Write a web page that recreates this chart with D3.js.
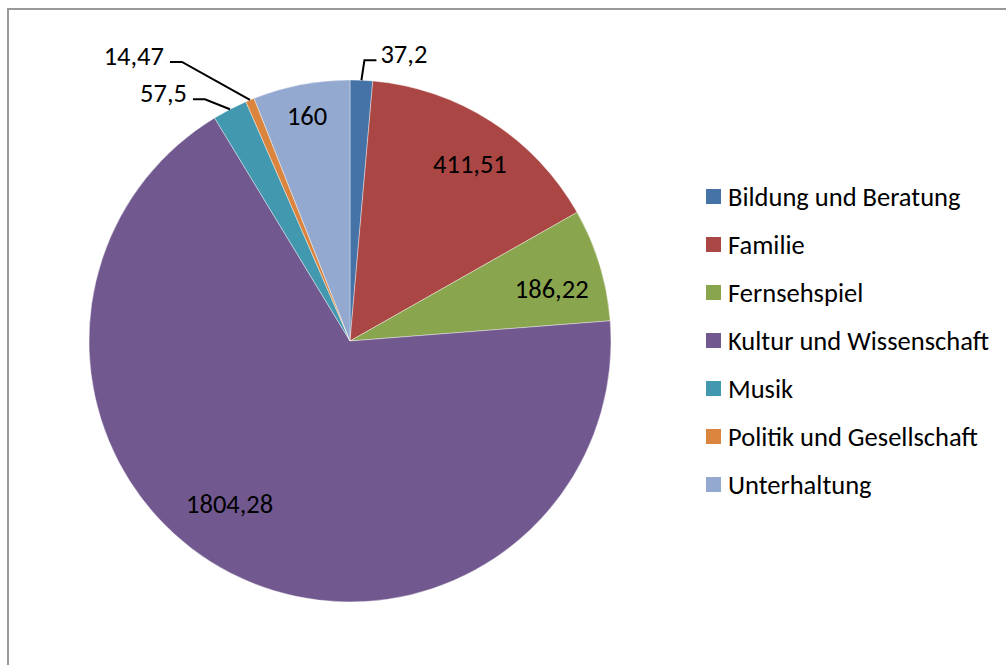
<!DOCTYPE html>
<html>
<head>
<meta charset="utf-8">
<script src="https://cdn.jsdelivr.net/npm/d3@7"></script>
<style>
  body { margin: 0; background: #fff; }
  svg text { font-family: Carlito, Calibri, Lato, sans-serif; fill: #000; }
</style>
</head>
<body>
<div class="pie_chart"></div>
<script>
var categories = ["Bildung und Beratung", "Familie", "Fernsehspiel", "Kultur und Wissenschaft",
                  "Musik", "Politik und Gesellschaft", "Unterhaltung"];
var values = [37.2, 411.51, 186.22, 1804.28, 57.5, 14.47, 160];
var labels = ["37,2", "411,51", "186,22", "1804,28", "57,5", "14,47", "160"];
var colors = ["#4572A7", "#AA4643", "#89A54E", "#71588F", "#4198AF", "#DB843D", "#93A9CF"];

// label placement: inside -> radius factor + nudge, outside -> leader line
var labelPos = [
    {out: true, dx: 3, dy: -20, hx: 12},
    {r: 0.80, dx: 7, dy: -2},
    {r: 0.80, dx: 2, dy: 9},
    {r: 0.70, dx: -37, dy: 0},
    {out: true, dx: -25, dy: -10, hx: -12},
    {out: true, dx: -68, dy: -38, hx: -12},
    {r: 0.88, dx: 0, dy: 0}
];

var width = 1006, height = 665;
var cx = 350, cy = 341, radius = 261;
var fontSize = 26.5;

var svg = d3.select(".pie_chart")
    .append("svg")
    .attr("width", width)
    .attr("height", height);

svg.append("rect")
    .attr("x", 8)
    .attr("y", 9)
    .attr("width", width + 20)
    .attr("height", height + 20)
    .attr("fill", "#fff")
    .attr("stroke", "#999")
    .attr("stroke-width", 2);

var pie = d3.pie().sort(null).value(function(d){return d;});
var arcs = pie(values);

var arc = d3.arc().innerRadius(0).outerRadius(radius);

var g = svg.append("g")
    .attr("transform", "translate(" + cx + "," + cy + ")");

g.selectAll("path")
    .data(arcs)
    .enter()
    .append("path")
    .attr("d", arc)
    .attr("fill", function(d, i){return colors[i];})
    .attr("stroke", "#fff")
    .attr("stroke-width", 0.4);

arcs.forEach(function(d, i) {
    var p = labelPos[i];
    var mid = (d.startAngle + d.endAngle) / 2;
    if (p.out) {
        // leader line from the edge of the slice
        var x0 = Math.sin(mid) * radius, y0 = -Math.cos(mid) * radius;
        var x1 = x0 + p.dx, y1 = y0 + p.dy;
        var x2 = x1 + p.hx;
        g.append("polyline")
            .attr("points", [[x0, y0], [x1, y1], [x2, y1]].map(function(q){return q.join(",");}).join(" "))
            .attr("fill", "none")
            .attr("stroke", "#000")
            .attr("stroke-width", 2);
        g.append("text")
            .attr("x", x2 + (p.hx > 0 ? 4 : -6))
            .attr("y", y1)
            .attr("dy", "0.1em")
            .attr("text-anchor", p.hx > 0 ? "start" : "end")
            .style("font-size", fontSize + "px")
            .text(labels[i]);
    } else {
        var lr = radius * p.r;
        g.append("text")
            .attr("x", Math.sin(mid) * lr + p.dx)
            .attr("y", -Math.cos(mid) * lr + p.dy)
            .attr("dy", "0.35em")
            .attr("text-anchor", "middle")
            .style("font-size", fontSize + "px")
            .text(labels[i]);
    }
});

var legend = svg.append("g")
    .attr("transform", "translate(706,189)");

var item = legend.selectAll("g")
    .data(categories)
    .enter()
    .append("g")
    .attr("transform", function(d, i){return "translate(0," + (i * 48) + ")";});

item.append("rect")
    .attr("width", 15)
    .attr("height", 15)
    .attr("fill", function(d, i){return colors[i];});

item.append("text")
    .attr("x", 22)
    .attr("y", 8)
    .attr("dy", "0.35em")
    .style("font-size", fontSize + "px")
    .text(function(d){return d;});
</script>
</body>
</html>
